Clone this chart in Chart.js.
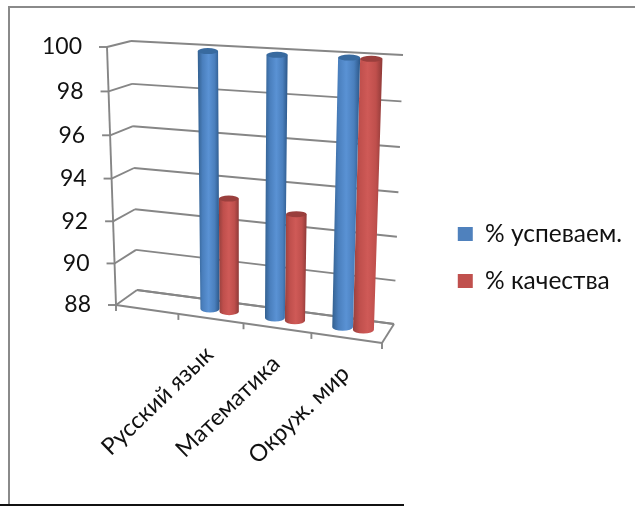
<!DOCTYPE html>
<html>
<head>
<meta charset="utf-8">
<style>
    body{margin:0;background:#fff;overflow:hidden;}
    #wrap{position:relative;width:635px;height:506px;}
    #chart{position:absolute;left:0;top:0;filter:blur(0.5px);}
    .line{position:absolute;}
</style>
<script src="https://cdn.jsdelivr.net/npm/chart.js@4/dist/chart.umd.min.js"></script>
</head>
<body>
<div id="wrap">
    <canvas id="chart" width="635" height="506"></canvas>
    <div class="line" style="left:8px;top:6px;width:627px;height:2px;background:#8a8a8a"></div>
    <div class="line" style="left:8px;top:6px;width:2px;height:498px;background:#8a8a8a"></div>
    <div class="line" style="left:0;top:504px;width:404px;height:2px;background:#111"></div>
</div>
<script>
// =========================
// Data
// =========================
const categories = ["", "Русский язык", "Математика", "Окруж. мир"];
const uspevaem = [null, 99.9, 99.9, 99.95];
const kachestvo = [null, 93.3, 92.9, 99.95];
const seriesNames = ["% успеваем.", "% качества"];
const yMin = 88;
const yMax = 100;
const yStep = 2;

const FONT = "Lato";
const GRID = "#868686";

// =========================
// 3D box (screen corners of the plot)
// =========================
const frontBL = [116, 305], frontTL = [107, 47], frontBR = [382, 343], frontTR = [392, 63];
const backBL = [137, 290], backTL = [131, 41], backBR = [394, 324], backTR = [403, 55];

function mix(a, b, t){
    return [a[0] + (b[0] - a[0]) * t, a[1] + (b[1] - a[1]) * t];
}

// u: left to right, v: bottom to top, depth: front to back, all 0..1
function project(u, v, depth){
    const uu = u + 0.0825 * (u * u - u);
    const vv = v + 0.04 * (v * v - v);
    const front = mix(mix(frontBL, frontBR, uu), mix(frontTL, frontTR, uu), vv);
    const back = mix(mix(backBL, backBR, uu), mix(backTL, backTR, uu), vv);
    return mix(front, back, depth);
}

function toU(chart, px){
    return (px - chart.chartArea.left) / chart.chartArea.width;
}

function toV(chart, py){
    return (chart.chartArea.bottom - py) / chart.chartArea.height;
}

function segment(ctx, a, b){
    ctx.beginPath();
    ctx.moveTo(a[0], a[1]);
    ctx.lineTo(b[0], b[1]);
    ctx.stroke();
}

// =========================
// Cylinder bars
// =========================
const shades = {
    "#4F81BD": {edgeL: "#33608f", mid: "#4a7fbd", light: "#5a92d4", edgeR: "#2c5788", cap: "#386a9f"},
    "#C0504D": {edgeL: "#96403d", mid: "#bf4f4c", light: "#cf5a57", edgeR: "#8e3a38", cap: "#9a3f3d"}
};

class CylinderElement extends Chart.BarElement {
    draw(ctx){
        if(isNaN(this.y) || isNaN(this.base)) return;

        const chart = this.ownerChart;
        const u = toU(chart, this.x);
        const half = this.width / chart.chartArea.width / 2;
        const vTop = toV(chart, this.y);
        const vBase = toV(chart, this.base);

        const tl = project(u - half, vTop, 0.5);
        const tr = project(u + half, vTop, 0.5);
        const bl = project(u - half, vBase, 0.5);
        const br = project(u + half, vBase, 0.5);
        const topY = (tl[1] + tr[1]) / 2;
        const baseY = (bl[1] + br[1]) / 2;
        const shade = shades[this.options.backgroundColor];

        const grad = ctx.createLinearGradient(Math.min(tl[0], bl[0]), 0, Math.max(tr[0], br[0]), 0);
        grad.addColorStop(0, shade.edgeL);
        grad.addColorStop(0.22, shade.mid);
        grad.addColorStop(0.5, shade.light);
        grad.addColorStop(0.78, shade.mid);
        grad.addColorStop(1, shade.edgeR);

        ctx.save();
        ctx.fillStyle = grad;
        ctx.beginPath();
        ctx.moveTo(tl[0], topY);
        ctx.lineTo(tr[0], topY);
        ctx.lineTo(br[0], baseY);
        ctx.ellipse((bl[0] + br[0]) / 2, baseY, (br[0] - bl[0]) / 2, 3.5, 0, 0, Math.PI);
        ctx.closePath();
        ctx.fill();

        ctx.fillStyle = shade.cap;
        ctx.beginPath();
        ctx.ellipse((tl[0] + tr[0]) / 2, topY, (tr[0] - tl[0]) / 2, 3, 0, 0, Math.PI * 2);
        ctx.fill();
        ctx.restore();
    }
}
CylinderElement.id = "cylinderBar";
CylinderElement.defaults = Chart.BarElement.defaults;

class CylinderController extends Chart.BarController {
    draw(){
        const chart = this.chart;
        this.getMeta().data.forEach(function(el){
            el.ownerChart = chart;
        });
        super.draw();
    }
}
CylinderController.id = "cylinder";
CylinderController.defaults = Object.assign({}, Chart.BarController.defaults, {dataElementType: "cylinderBar"});
CylinderController.overrides = Chart.BarController.overrides;

Chart.register(CylinderElement, CylinderController);

// =========================
// Walls, floor, axes and their labels
// =========================
const boxPlugin = {
    id: "box",
    beforeDatasetsDraw(chart){
        const ctx = chart.ctx;
        const y = chart.scales.y;
        const x = chart.scales.x;
        const count = categories.length;

        ctx.save();
        ctx.strokeStyle = GRID;
        ctx.lineWidth = 1.9;

        // horizontal lines on the two walls
        y.ticks.forEach(function(tick){
            const v = toV(chart, y.getPixelForValue(tick.value));
            const a = project(0, v, 0);
            const b = project(0, v, 1);
            const c = project(1, v, 1);
            segment(ctx, a, b);
            segment(ctx, b, c);
            segment(ctx, [a[0] - 8, a[1]], a);

            ctx.fillStyle = "#111";
            ctx.font = "23px " + FONT;
            ctx.textAlign = "right";
            ctx.textBaseline = "middle";
            ctx.fillText(tick.label, a[0] - 25, a[1]);
        });

        // left axis and floor outline
        segment(ctx, project(0, 1, 0), project(0, 0, 0));
        segment(ctx, project(0, 0, 0), project(1, 0, 0));
        segment(ctx, project(1, 0, 0), project(1, 0, 1));
        segment(ctx, project(1, 0, 1), project(0, 0, 1));

        // ticks under the front edge
        for(let i = 0; i <= count; i++){
            const p = project(i / count, 0, 0);
            segment(ctx, p, [p[0], p[1] + 6]);
        }

        // category labels
        ctx.fillStyle = "#111";
        ctx.font = "23.5px " + FONT;
        ctx.textAlign = "right";
        ctx.textBaseline = "middle";
        categories.forEach(function(label, i){
            const p = project(toU(chart, x.getPixelForTick(i)), 0, 0);
            ctx.save();
            ctx.translate(p[0] - 1, p[1] + 32);
            ctx.rotate(-44 * Math.PI / 180);
            ctx.fillText(label, 0, 0);
            ctx.restore();
        });
        ctx.restore();
    }
};

// =========================
// Chart
// =========================
new Chart(document.getElementById("chart"), {
    type: "cylinder",
    data: {
        labels: categories,
        datasets: [
            {label: seriesNames[0], data: uspevaem, backgroundColor: "#4F81BD"},
            {label: seriesNames[1], data: kachestvo, backgroundColor: "#C0504D"}
        ]
    },
    options: {
        responsive: false,
        animation: false,
        events: [],
        base: yMin,
        categoryPercentage: 0.6,
        barPercentage: 1,
        layout: {padding: {top: 9, right: 3, bottom: 0, left: 116}},
        scales: {
            x: {
                display: false
            },
            y: {
                display: false,
                min: yMin,
                max: yMax,
                ticks: {stepSize: yStep}
            }
        },
        plugins: {
            tooltip: {enabled: false},
            legend: {
                position: "right",
                labels: {
                    color: "#111",
                    boxWidth: 15,
                    boxHeight: 14,
                    padding: 22.5,
                    font: {family: FONT, size: 24.5}
                }
            }
        }
    },
    plugins: [boxPlugin]
});
</script>
</body>
</html>
